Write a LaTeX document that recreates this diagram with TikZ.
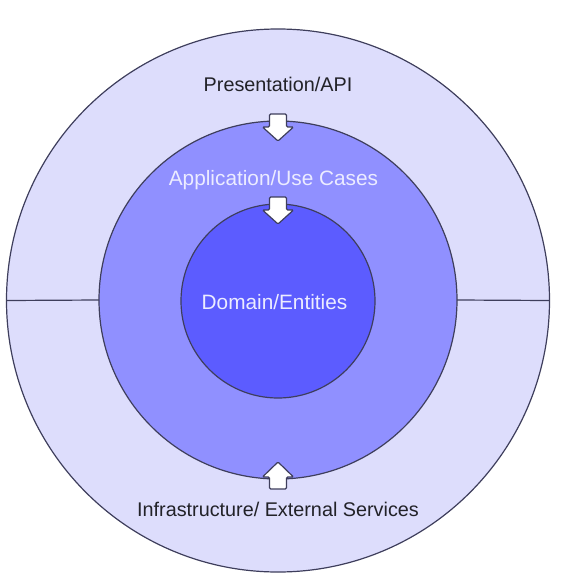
\documentclass[tikz,border=0pt]{standalone}
\usepackage{fontspec}
\setmainfont{Liberation Sans}
\definecolor{outerfill}{RGB}{221,221,252}
\definecolor{midfill}{RGB}{144,144,255}
\definecolor{innerfill}{RGB}{92,92,255}
\definecolor{edge}{RGB}{62,62,92}
\definecolor{darktext}{RGB}{34,34,40}
\definecolor{lighttext}{RGB}{236,236,255}
\begin{document}
\begin{tikzpicture}[x=1pt,y=-1pt,
  ring/.style={circle,draw=edge,line width=1.2pt,inner sep=0pt,outer sep=0pt},
  lbl/.style={anchor=base,font=\fontsize{19.8}{22}\selectfont,inner sep=0pt},
  biglbl/.style={lbl,font=\fontsize{20.8}{23}\selectfont},
  arrowstyle/.style={draw=edge,fill=white,line width=1.2pt,rounded corners=1.2pt},
  downarrow/.pic={\draw[arrowstyle] (-8.5,0) -- (8.5,0) -- (8.5,13) -- (15.5,13) -- (0,27) -- (-15.5,13) -- (-8.5,13) -- cycle;},
  uparrow/.pic={\draw[arrowstyle] (-8.5,0) -- (8.5,0) -- (8.5,-12) -- (15.5,-12) -- (0,-27) -- (-15.5,-12) -- (-8.5,-12) -- cycle;}
]
\useasboundingbox (0,0) rectangle (562,584);
\node[ring,fill=outerfill,minimum size=543pt] (outer) at (278,300.5) {};
\node[ring,fill=midfill,minimum size=358pt] (middle) at (278,300) {};
\node[ring,fill=innerfill,minimum size=194pt] (inner) at (278,301) {};
\draw[edge,line width=1.2pt] (outer.west) -- (middle.west);
\draw[edge,line width=1.2pt] (middle.east) -- (outer.east);
\pic at (278,114) {downarrow};
\pic at (278,197) {downarrow};
\pic at (278,489) {uparrow};
\node[lbl,text=darktext] (pres) at (278,91.5) {Presentation/API};
\node[biglbl,text=lighttext] (app) at (273.5,185) {Application/Use Cases};
\node[biglbl,text=lighttext] (dom) at (274.5,309) {Domain/Entities};
\node[lbl,text=darktext] (infra) at (278,516) {Infrastructure/ External Services};
\end{tikzpicture}
\end{document}
